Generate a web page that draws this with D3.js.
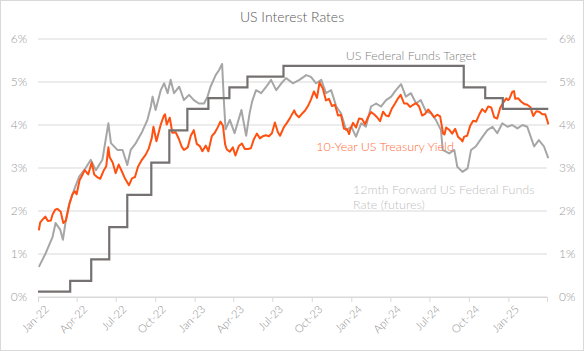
<!DOCTYPE html>
<html>
<head>
<meta charset="utf-8">
<script src="https://cdn.jsdelivr.net/npm/d3@7"></script>
<style>
  body { margin: 0; background: #fff; }
  svg text { font-family: Lato, "Noto Sans", sans-serif; font-weight: 300; }
</style>
</head>
<body>
<div id="chart"></div>
<script>
// Fed funds target (mid-point of range), step dates
var fedDates = ["2022-01-01","2022-03-17","2022-05-05","2022-06-16","2022-07-28","2022-09-22","2022-11-03","2022-12-15","2023-02-02","2023-03-23","2023-05-04","2023-07-27","2024-09-19","2024-11-08","2024-12-19","2025-04-04"]
var fedRates = [0.125,0.375,0.875,1.625,2.375,3.125,3.875,4.375,4.625,4.875,5.125,5.375,4.875,4.625,4.375,4.375]

// 10-year US Treasury yield (weekly readings)
var ustDates = ["2022-01-03","2022-01-06","2022-01-10","2022-01-18","2022-01-24","2022-01-31","2022-02-04","2022-02-10","2022-02-15","2022-02-23","2022-03-01","2022-03-07","2022-03-15","2022-03-22","2022-03-28","2022-04-01","2022-04-08","2022-04-14","2022-04-20","2022-04-28","2022-05-06","2022-05-12","2022-05-20","2022-05-26","2022-06-03","2022-06-09","2022-06-14","2022-06-17","2022-06-24","2022-07-01","2022-07-08","2022-07-15","2022-07-22","2022-08-01","2022-08-08","2022-08-15","2022-08-22","2022-08-31","2022-09-09","2022-09-16","2022-09-23","2022-09-27","2022-10-04","2022-10-14","2022-10-21","2022-10-24","2022-10-28","2022-11-04","2022-11-10","2022-11-18","2022-11-25","2022-12-02","2022-12-07","2022-12-16","2022-12-23","2022-12-30",
  "2023-01-06","2023-01-13","2023-01-19","2023-01-27","2023-02-02","2023-02-10","2023-02-17","2023-02-24","2023-03-02","2023-03-08","2023-03-13","2023-03-17","2023-03-24","2023-03-31","2023-04-06","2023-04-14","2023-04-21","2023-04-28","2023-05-05","2023-05-12","2023-05-19","2023-05-26","2023-06-02","2023-06-09","2023-06-16","2023-06-23","2023-06-30","2023-07-07","2023-07-14","2023-07-19","2023-07-28","2023-08-04","2023-08-11","2023-08-21","2023-08-25","2023-09-01","2023-09-08","2023-09-15","2023-09-22","2023-09-29","2023-10-06","2023-10-13","2023-10-19","2023-10-27","2023-11-03","2023-11-10","2023-11-17","2023-11-24","2023-12-01","2023-12-08","2023-12-15","2023-12-22","2023-12-27","2023-12-29",
  "2024-01-05","2024-01-12","2024-01-19","2024-01-26","2024-02-02","2024-02-09","2024-02-16","2024-02-23","2024-03-01","2024-03-08","2024-03-15","2024-03-22","2024-03-28","2024-04-05","2024-04-12","2024-04-19","2024-04-25","2024-05-03","2024-05-10","2024-05-17","2024-05-24","2024-05-31","2024-06-07","2024-06-14","2024-06-21","2024-06-28","2024-07-05","2024-07-12","2024-07-19","2024-07-26","2024-08-02","2024-08-05","2024-08-09","2024-08-16","2024-08-23","2024-08-30","2024-09-06","2024-09-13","2024-09-16","2024-09-20","2024-09-27","2024-10-04","2024-10-11","2024-10-18","2024-10-25","2024-11-01","2024-11-08","2024-11-15","2024-11-22","2024-11-29","2024-12-06","2024-12-13","2024-12-20","2024-12-27","2024-12-31",
  "2025-01-03","2025-01-10","2025-01-14","2025-01-17","2025-01-24","2025-01-31","2025-02-07","2025-02-14","2025-02-21","2025-02-28","2025-03-07","2025-03-14","2025-03-21","2025-03-28","2025-04-03","2025-04-04"]
var ustYields = [1.55,1.73,1.78,1.87,1.77,1.78,1.92,2.03,2.05,1.98,1.72,1.78,2.15,2.38,2.46,2.39,2.72,2.83,2.95,2.85,3.13,2.85,2.78,2.75,2.94,3.04,3.48,3.25,3.13,2.88,3.08,2.93,2.77,2.60,2.76,2.79,3.03,3.19,3.31,3.45,3.69,3.96,3.62,4.01,4.21,4.25,4.01,4.17,3.82,3.83,3.68,3.49,3.42,3.48,3.75,3.88,
  3.56,3.51,3.39,3.52,3.39,3.74,3.82,3.95,4.08,3.98,3.55,3.43,3.38,3.48,3.29,3.51,3.57,3.44,3.44,3.46,3.67,3.80,3.69,3.74,3.76,3.74,3.81,4.06,3.83,3.75,3.95,4.05,4.16,4.34,4.25,4.18,4.26,4.33,4.44,4.59,4.78,4.63,4.99,4.84,4.57,4.61,4.44,4.47,4.22,4.23,3.91,3.90,3.79,3.88,
  4.05,3.94,4.15,4.14,4.02,4.18,4.30,4.25,4.18,4.09,4.31,4.22,4.20,4.39,4.50,4.62,4.70,4.50,4.50,4.42,4.47,4.51,4.43,4.22,4.26,4.36,4.28,4.18,4.24,4.20,3.80,3.78,3.94,3.89,3.80,3.91,3.72,3.66,3.62,3.73,3.75,3.98,4.10,4.08,4.24,4.37,4.30,4.43,4.41,4.18,4.15,4.40,4.52,4.62,4.58,
  4.60,4.77,4.79,4.61,4.62,4.54,4.49,4.47,4.42,4.21,4.32,4.31,4.25,4.25,4.06,4.01]

// 12mth forward US fed funds rate implied by futures
var futDates = ["2022-01-03","2022-01-19","2022-02-04","2022-02-11","2022-02-22","2022-02-28","2022-03-07","2022-03-15","2022-03-26","2022-04-07","2022-04-22","2022-05-04","2022-05-16","2022-05-31","2022-06-14","2022-06-20","2022-07-05","2022-07-17","2022-07-28","2022-08-05","2022-08-17","2022-09-01","2022-09-13","2022-09-21","2022-09-25","2022-10-02","2022-10-14","2022-10-22","2022-10-30","2022-11-06","2022-11-14","2022-11-26","2022-12-07","2022-12-19","2022-12-30",
  "2023-01-11","2023-01-23","2023-01-31","2023-02-07","2023-02-19","2023-02-27","2023-03-06","2023-03-10","2023-03-14","2023-03-24","2023-04-04","2023-04-20","2023-05-01","2023-05-09","2023-05-15","2023-05-24","2023-06-05","2023-06-17","2023-06-28","2023-07-10","2023-07-22","2023-08-02","2023-08-18","2023-09-02","2023-09-18","2023-09-29","2023-10-11","2023-10-23","2023-11-03","2023-11-15","2023-11-27","2023-12-08","2023-12-20",
  "2024-01-01","2024-01-12","2024-01-24","2024-02-04","2024-02-16","2024-02-28","2024-03-10","2024-03-22","2024-04-03","2024-04-14","2024-04-26","2024-05-07","2024-05-19","2024-05-31","2024-06-11","2024-06-23","2024-07-05","2024-07-16","2024-07-28","2024-08-01","2024-08-16","2024-08-28","2024-09-04","2024-09-16","2024-09-28","2024-10-06","2024-10-17","2024-11-02","2024-11-13","2024-11-25","2024-12-06","2024-12-18","2024-12-30",
  "2025-01-10","2025-01-22","2025-02-03","2025-02-14","2025-02-22","2025-03-02","2025-03-13","2025-03-25","2025-04-04"]
var futRates = [0.70,1.02,1.40,1.72,1.56,1.33,1.79,2.18,2.49,2.80,3.00,3.19,2.95,3.19,4.04,3.58,3.42,3.42,3.07,3.42,3.58,3.85,4.12,4.43,4.66,4.35,4.81,4.97,4.74,5.05,4.74,4.89,4.58,4.70,4.58,
  4.50,4.50,4.66,4.89,5.16,5.28,5.42,4.58,3.90,4.12,3.81,4.35,3.75,4.27,4.55,4.81,4.74,4.89,5.05,4.81,4.97,5.09,4.97,5.05,5.16,5.12,4.97,5.05,4.74,4.81,4.43,4.27,3.88,
  3.96,3.73,4.04,3.96,4.43,4.50,4.43,4.58,4.66,4.81,4.95,4.66,4.74,4.50,4.58,4.31,4.27,4.12,3.88,3.42,3.34,3.42,3.03,2.91,2.99,3.42,3.50,3.73,3.88,3.96,3.81,4.04,3.96,
  4.00,3.92,4.00,3.96,3.73,3.50,3.65,3.50,3.23]

var yTicks = [0, 1, 2, 3, 4, 5, 6]

var W = 584, H = 351
var margin = {top: 39, right: 37, bottom: 54, left: 38}
var width = W - margin.left - margin.right,
    height = H - margin.top - margin.bottom

var parse = d3.timeParse("%Y-%m-%d")

var svg = d3.select("#chart").append("svg")
  .attr("width", W)
  .attr("height", H)

svg.append("rect")
  .attr("x", 0.5).attr("y", 0.5)
  .attr("width", W - 1).attr("height", H - 1)
  .attr("fill", "#fff")
  .attr("stroke", "#d9d9d9")

var g = svg.append("g")
  .attr("transform", "translate(" + margin.left + "," + margin.top + ")")

var x = d3.scaleTime()
  .domain([parse("2022-01-01"), parse("2025-04-01")])
  .range([0, width])

var y = d3.scaleLinear().domain([0, 6]).range([height, 0])

// gridlines
g.selectAll(".grid")
  .data(yTicks)
  .enter().append("line")
  .attr("x1", 0).attr("x2", width)
  .attr("y1", d => y(d)).attr("y2", d => y(d))
  .attr("stroke", "#d9d9d9")
  .attr("stroke-width", 1)

// y axes both sides
var yLeft = d3.axisLeft(y).tickValues(yTicks).tickFormat(d => d + "%").tickSize(0).tickPadding(11)
g.append("g").attr("class", "axis y-left").call(yLeft)
var yRight = d3.axisRight(y).tickValues(yTicks).tickFormat(d => d + "%").tickSize(0).tickPadding(12)
g.append("g").attr("class", "axis y-right").attr("transform", "translate(" + width + ",0)").call(yRight)

// x axis, quarterly
var xTicks = d3.timeMonth.every(3).range(parse("2022-01-01"), parse("2025-04-02"))
var xAxis = d3.axisBottom(x)
  .tickValues(xTicks)
  .tickSize(5)
  .tickFormat(d => d < parse("2025-03-01") ? d3.timeFormat("%b-%y")(d) : "")
var xg = g.append("g").attr("class", "axis x-axis")
  .attr("transform", "translate(0," + height + ")")
  .call(xAxis)
xg.selectAll("text")
  .attr("text-anchor", "end")
  .attr("transform", "translate(4,6) rotate(-45)")
  .attr("dx", 0).attr("dy", "0.35em").attr("y", 6).attr("x", 0)

svg.selectAll(".axis .domain").attr("stroke", "#d9d9d9")
xg.selectAll(".tick line").attr("stroke", "#d9d9d9")
svg.selectAll(".y-left .domain, .y-right .domain").remove()
svg.selectAll(".axis text")
  .attr("fill", "#999999")
  .style("font-size", "12px")
xg.selectAll("text").style("font-size", "11px").attr("fill", "#8c8c8c")

var line = d3.line()
  .x(d => x(d[0]))
  .y(d => y(d[1]))

var futData = futDates.map((d, i) => [parse(d), futRates[i]])
var ustData = ustDates.map((d, i) => [parse(d), ustYields[i]])
var fedData = fedDates.map((d, i) => [parse(d), fedRates[i]])

g.append("path")
  .datum(futData)
  .attr("d", line)
  .attr("fill", "none")
  .attr("stroke", "#a6a6a6")
  .attr("stroke-width", 2)
  .attr("stroke-linejoin", "round")

g.append("path")
  .datum(ustData)
  .attr("d", line)
  .attr("fill", "none")
  .attr("stroke", "#ff5010")
  .attr("stroke-width", 2)
  .attr("stroke-linejoin", "round")

g.append("path")
  .datum(fedData)
  .attr("d", line.curve(d3.curveStepAfter))
  .attr("fill", "none")
  .attr("stroke", "#767171")
  .attr("stroke-width", 2.2)

// title and series labels
svg.append("text")
  .attr("x", 292).attr("y", 22)
  .attr("text-anchor", "middle")
  .attr("fill", "#595959")
  .style("font-size", "14px")
  .text("US Interest Rates")

svg.append("text")
  .attr("x", 411).attr("y", 60)
  .attr("text-anchor", "middle")
  .attr("fill", "#7f7f7f")
  .style("font-size", "12.5px")
  .text("US Federal Funds Target")

svg.append("text")
  .attr("x", 385).attr("y", 151)
  .attr("text-anchor", "middle")
  .attr("fill", "#ff6a36")
  .style("font-size", "12.5px")
  .text("10-Year US Treasury Yield")

var futLabel = svg.append("text")
  .attr("x", 353).attr("y", 194)
  .attr("fill", "#bfbfbf")
  .style("font-size", "12.5px")
futLabel.append("tspan").attr("x", 353).text("12mth Forward US Federal Funds")
futLabel.append("tspan").attr("x", 353).attr("dy", 15).text("Rate (futures)")
</script>
</body>
</html>
